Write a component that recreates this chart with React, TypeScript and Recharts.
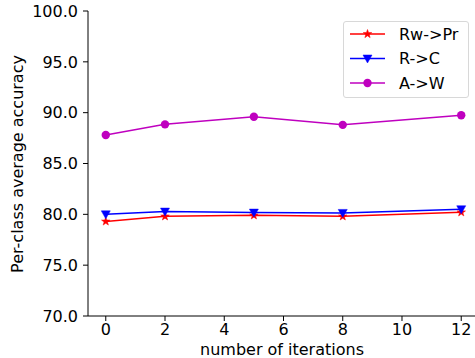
import { LineChart, Line, XAxis, YAxis, Label } from 'recharts';

const iterations = [0, 2, 5, 8, 12];
const rwToPr = [79.3, 79.8, 79.9, 79.8, 80.2];
const rToC = [80.0, 80.27, 80.17, 80.14, 80.5];
const aToW = [87.8, 88.85, 89.6, 88.8, 89.75];
const xTicks = [0, 2, 4, 6, 8, 10, 12];
const yTicks = [70, 75, 80, 85, 90, 95, 100];

const series = [
  { key: 'rwpr', name: 'Rw->Pr', color: '#ff0000', marker: 'star' },
  { key: 'rc', name: 'R->C', color: '#0000ff', marker: 'tri' },
  { key: 'aw', name: 'A->W', color: '#bf00bf', marker: 'circle' },
];

const data = iterations.map((it, i) => ({
  it,
  rwpr: rwToPr[i],
  rc: rToC[i],
  aw: aToW[i],
}));

const FONT = '"DejaVu Sans", sans-serif';

function starPoints(cx: number, cy: number, r: number) {
  const pts: string[] = [];
  for (let i = 0; i < 10; i++) {
    const rad = i % 2 === 0 ? r : r * 0.4;
    const a = -Math.PI / 2 + (i * Math.PI) / 5;
    pts.push(`${cx + rad * Math.cos(a)},${cy + rad * Math.sin(a)}`);
  }
  return pts.join(' ');
}

function Marker({ cx, cy, kind, color }: { cx: number; cy: number; kind: string; color: string }) {
  if (kind === 'star') return <polygon points={starPoints(cx, cy, 4.5)} fill={color} stroke={color} strokeWidth={0.5} />;
  if (kind === 'tri')
    return <polygon points={`${cx - 4.5},${cy - 3.5} ${cx + 4.5},${cy - 3.5} ${cx},${cy + 4.5}`} fill={color} stroke={color} strokeWidth={0.5} />;
  return <circle cx={cx} cy={cy} r={4.2} fill={color} />;
}

const makeDot = (kind: string, color: string) => (props: any) => {
  const { cx, cy, index } = props;
  if (cx == null || cy == null) return <g key={index} />;
  return <Marker key={index} cx={cx} cy={cy} kind={kind} color={color} />;
};

function LegendBox() {
  return (
    <div
      style={{
        position: 'absolute',
        left: 343,
        top: 21,
        width: 126,
        height: 77,
        border: '1px solid #d8d8d8',
        borderRadius: 3,
        background: 'rgba(255,255,255,0.8)',
        boxSizing: 'border-box',
      }}
    >
      <svg width={124} height={75} style={{ display: 'block' }}>
        {series.map((s, i) => {
          const y = 12 + i * 24.5;
          return (
            <g key={s.key}>
              <line x1={6} x2={41} y1={y} y2={y} stroke={s.color} strokeWidth={1.5} />
              <Marker cx={23.5} cy={y} kind={s.marker} color={s.color} />
              <text x={55} y={y} dy="0.35em" fontSize={16} fontFamily={FONT} fill="#000">
                {s.name}
              </text>
            </g>
          );
        })}
      </svg>
    </div>
  );
}

export default function App() {
  return (
    <div style={{ position: 'absolute', left: 0, top: 0, width: 475, height: 358, overflow: 'hidden', background: '#fff' }}>
      <LineChart width={485} height={358} data={data} margin={{ top: 11, right: 6, bottom: 0, left: 0 }}>
        <XAxis
          dataKey="it"
          type="number"
          domain={[-0.6, 12.6]}
          ticks={xTicks}
          allowDataOverflow
          height={42}
          stroke="#000"
          tickSize={5}
          tickMargin={3}
          tick={{ fill: '#000', fontSize: 16, fontFamily: FONT }}
        >
          <Label
            content={() => (
              <text x={282} y={349} textAnchor="middle" dy="0.35em" fontSize={16} fontFamily={FONT} fill="#000">
                number of iterations
              </text>
            )}
          />
        </XAxis>
        <XAxis xAxisId="top" orientation="top" dataKey="it" type="number" domain={[-0.6, 12.6]} tick={false} tickLine={false} height={0} stroke="#000" />
        <YAxis
          domain={[70, 100]}
          ticks={yTicks}
          allowDataOverflow
          width={88}
          stroke="#000"
          tickSize={5}
          tickMargin={5}
          tickFormatter={(v: number) => v.toFixed(1)}
          tick={{ fill: '#000', fontSize: 16, fontFamily: FONT }}
        >
          <Label
            content={() => (
              <text
                x={17}
                y={164}
                transform="rotate(-90 17 164)"
                textAnchor="middle"
                dy="0.35em"
                fontSize={16}
                fontFamily={FONT}
                fill="#000"
              >
                Per-class average accuracy
              </text>
            )}
          />
        </YAxis>
        {series.map((s) => (
          <Line
            key={s.key}
            dataKey={s.key}
            name={s.name}
            stroke={s.color}
            strokeWidth={1.5}
            type="linear"
            dot={makeDot(s.marker, s.color)}
            activeDot={false}
            isAnimationActive={false}
          />
        ))}
      </LineChart>
      <LegendBox />
    </div>
  );
}
